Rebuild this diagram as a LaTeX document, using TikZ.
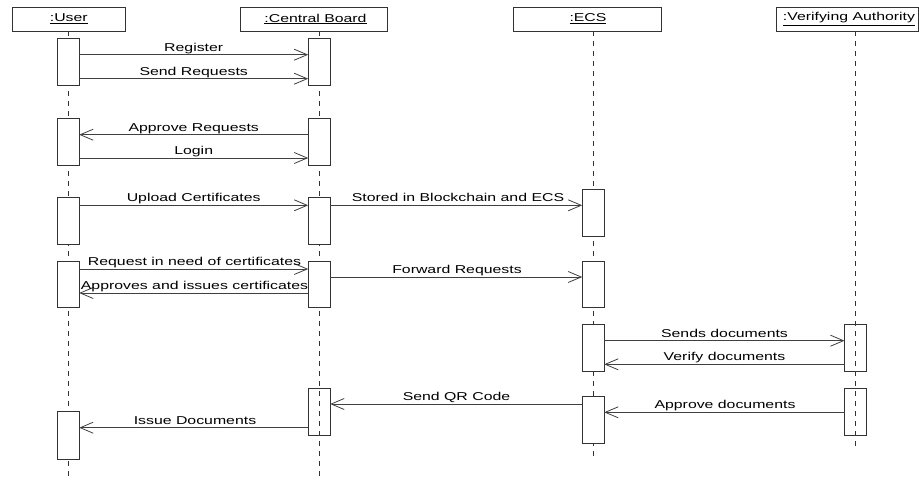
\documentclass[tikz,border=0pt]{standalone}
\usepackage{fontspec}
\newfontfamily\lblfont[FakeStretch=1.39]{Liberation Sans}
\usetikzlibrary{arrows.meta}
\tikzset{
  base/.style={line width=0.8pt, draw=black!80},
  headbox/.style={base, fill=white},
  lifeline/.style={line width=0.8pt, draw=black!80, dash pattern=on 5pt off 5pt},
  act/.style={base, fill=white, minimum width=22pt, inner sep=0pt, outer sep=0pt},
  actopen/.style={base, minimum width=22pt, inner sep=0pt, outer sep=0pt},
  msg/.style={line width=0.8pt, draw=black!75, -{Straight Barb[length=13pt,width=11pt,line width=0.8pt]}},
  lbl/.style={font=\lblfont\fontsize{11.4}{13}\selectfont, text=black, inner sep=0pt, anchor=base},
  headtxt/.style={font=\lblfont\fontsize{11.4}{13}\selectfont, text=black, inner sep=0pt}
}
\begin{document}
\begin{tikzpicture}[x=1pt,y=-1pt]
\useasboundingbox (0,0) rectangle (919,480);
\fill[white] (0,0) rectangle (919,480);
% head boxes
\draw[headbox] (12,7) rectangle (125,31);
\draw[headbox] (240,7) rectangle (387,31);
\draw[headbox] (513,7) rectangle (661,31);
\draw[headbox] (776,7) rectangle (918.4,31);
\node[headtxt] (hu) at (68.8,19) {\underline{:User}};
\node[headtxt] (hc) at (315.5,19) {\underline{:Central Board}};
\node[headtxt] (he) at (588,19) {\underline{:ECS}};
\node[headtxt] (hv) at (849,19) {\underline{:Verifying Authority}};
% lifelines
\coordinate (tu) at (68.5,31);
\coordinate (tc) at (319.2,31);
\coordinate (te) at (593.5,31);
\coordinate (tv) at (855.5,31);
\coordinate (lu) at (68.5,480);
\coordinate (lc) at (319.2,476);
\coordinate (le) at (593.5,459);
\coordinate (lv) at (855.5,450);
\draw[lifeline] (tu) -- (lu);
\draw[lifeline] (tc) -- (lc);
\draw[lifeline] (te) -- (le);
\draw[lifeline] (tv) -- (lv);
% activations
\node[act, minimum height=47pt] (u1) at (68.2,62.2) {};
\node[act, minimum height=47pt] (u2) at (68.2,141.5) {};
\node[act, minimum height=46.7pt] (u3) at (68.2,220.7) {};
\node[act, minimum height=46.7pt] (u4) at (68.2,284.3) {};
\node[act, minimum height=47.3pt] (u5) at (68.2,435.3) {};
\node[act, minimum height=47pt] (c1) at (319.2,62.2) {};
\node[act, minimum height=47pt] (c2) at (319.2,141.5) {};
\node[act, minimum height=46.7pt] (c3) at (319.2,220.7) {};
\node[act, minimum height=46.7pt] (c4) at (319.2,284.3) {};
\node[actopen, minimum height=46.7pt] (c5) at (319.2,411.7) {};
\node[act, minimum height=47.4pt] (e1) at (593.2,213) {};
\node[act, minimum height=46.7pt] (e2) at (593.2,284.3) {};
\node[act, minimum height=47.4pt] (e3) at (593.2,348) {};
\node[act, minimum height=47pt] (e4) at (593.2,419.5) {};
\node[actopen, minimum height=47.4pt] (v1) at (855.5,348) {};
\node[actopen, minimum height=46.7pt] (v2) at (855.5,411.7) {};
% messages
\draw[msg] (u1.east |- 0,54.7) -- (c1.west |- 0,54.7);
\node[lbl] (m1) at (193.7,51.3) {Register};
\draw[msg] (u1.east |- 0,78.7) -- (c1.west |- 0,78.7);
\node[lbl] (m2) at (193.7,75.3) {Send Requests};
\draw[msg] (c2.west |- 0,134.7) -- (u2.east |- 0,134.7);
\node[lbl] (m3) at (193.7,131.3) {Approve Requests};
\draw[msg] (u2.east |- 0,158) -- (c2.west |- 0,158);
\node[lbl] (m4) at (193.7,154.6) {Login};
\draw[msg] (u3.east |- 0,205.3) -- (c3.west |- 0,205.3);
\node[lbl] (m5) at (193.7,201.9) {Upload Certificates};
\draw[msg] (c3.east |- 0,205.3) -- (e1.west |- 0,205.3);
\node[lbl] (m6) at (458,201.9) {Stored in Blockchain and ECS};
\draw[msg] (u4.east |- 0,269) -- (c4.west |- 0,269);
\node[lbl] (m7) at (194.5,265.6) {Request in need of certificates};
\draw[msg] (c4.east |- 0,277) -- (e2.west |- 0,277);
\node[lbl] (m8) at (457,273.6) {Forward Requests};
\draw[msg] (c4.west |- 0,293) -- (u4.east |- 0,293);
\node[lbl] (m9) at (194.5,289.6) {Approves and issues certificates};
\draw[msg] (e3.east |- 0,340.7) -- (v1.west |- 0,340.7);
\node[lbl] (m10) at (724.5,337.3) {Sends documents};
\draw[msg] (v1.west |- 0,364.3) -- (e3.east |- 0,364.3);
\node[lbl] (m11) at (724.5,360.9) {Verify documents};
\draw[msg] (e4.west |- 0,404) -- (c5.east |- 0,404);
\node[lbl] (m12) at (456.5,400.6) {Send QR Code};
\draw[msg] (v2.west |- 0,412.3) -- (e4.east |- 0,412.3);
\node[lbl] (m13) at (725,408.9) {Approve documents};
\draw[msg] (c5.west |- 0,427.7) -- (u5.east |- 0,427.7);
\node[lbl] (m14) at (195,424.3) {Issue Documents};
\end{tikzpicture}
\end{document}
